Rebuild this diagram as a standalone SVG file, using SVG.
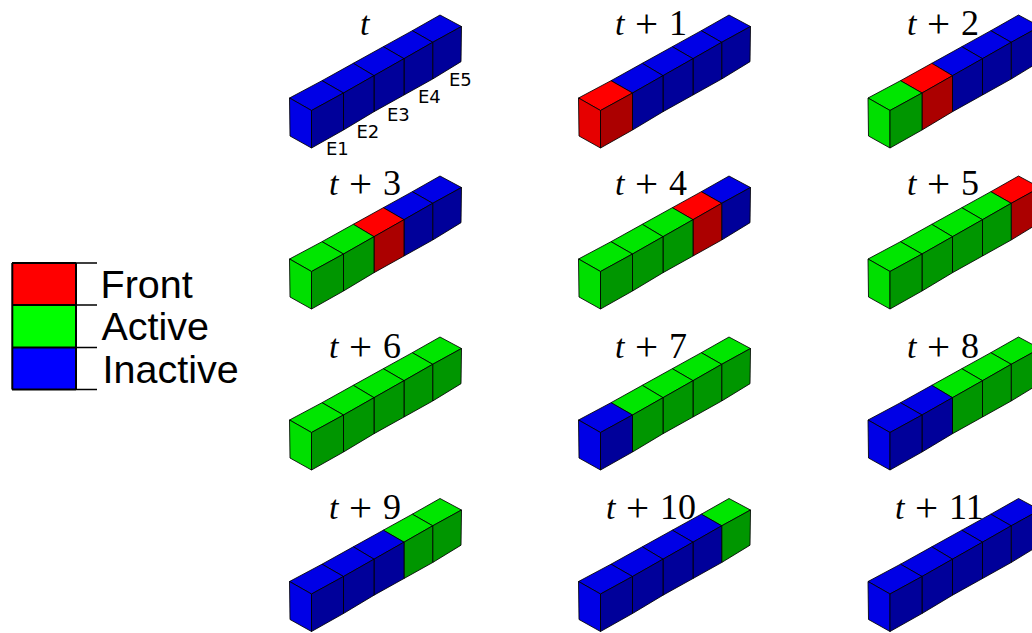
<svg xmlns="http://www.w3.org/2000/svg" width="1032" height="633" viewBox="0 0 1032 633">
<style>
.r{--a:#ff0000;--l:#e60000;--s:#ab0000}
.g{--a:#00e600;--l:#00df00;--s:#009600}
.b{--a:#0000e6;--l:#0000e6;--s:#00009a}
polygon{stroke:#000;stroke-width:.85;stroke-linejoin:round}
.t{fill:var(--a)}.f{fill:var(--l)}.d{fill:var(--s)}
.m{font-family:"Liberation Serif",serif;font-size:36px;fill:#000;word-spacing:2px}
.m .i{font-style:italic;font-size:34px}
.m .p{font-size:41px}
.e{font-family:"DejaVu Sans",sans-serif;font-size:18px;fill:#000}
.lg{font-family:"Liberation Sans",Arial,sans-serif;font-size:39.5px;fill:#000}
.bar{fill:none;stroke:#000;stroke-width:2}
.tick{stroke:#000;stroke-width:1.6;fill:none}
</style>
<defs>
<g id="e1"><polygon class="t" points="289.5,98 322,80.7 343.5,93 311.5,110.5"/><polygon class="f" points="289.5,98 311.5,110.5 311.5,148 290,136"/><polygon class="d" points="311.5,110.5 343.5,93 343.5,130 311.5,148"/></g>
<g id="e2"><polygon class="t" points="322,80.7 353.3,63.3 374,75.7 343.5,93"/><polygon class="d" points="343.5,93 374,75.7 374,111.7 343.5,130"/></g>
<g id="e3"><polygon class="t" points="353.3,63.3 383.3,46.7 404,58.7 374,75.7"/><polygon class="d" points="374,75.7 404,58.7 404,95 374,111.7"/></g>
<g id="e4"><polygon class="t" points="383.3,46.7 412.3,30.7 432.7,42.3 404,58.7"/><polygon class="d" points="404,58.7 432.7,42.3 432.7,79 404,95"/></g>
<g id="e5"><polygon class="t" points="412.3,30.7 440,15 461.5,26.5 432.7,42.3"/><polygon class="d" points="432.7,42.3 461.5,26.5 461,61.7 432.7,79"/></g>
</defs>
<g id="legend">
<rect x="12" y="263" width="64" height="42" fill="#ff0000"/>
<rect x="12" y="305" width="64" height="43" fill="#00ff00"/>
<rect x="12" y="347.500" width="64" height="42" fill="#0000ff"/>
<path class="bar" d="M12.300 263V389.500M76 263V389.500M12 263H76M12 305H76M12 347.500H76M12 389.500H76"/>
<path class="tick" d="M76 263H97M76 305H97M76 347.500H97M76 389.500H97"/>
<text class="lg" x="100.500" y="298">Front</text>
<text class="lg" x="101.500" y="340">Active</text>
<text class="lg" x="102.500" y="383">Inactive</text>
</g>
<g id="s0"><use href="#e5" class="b"/><use href="#e4" class="b"/><use href="#e3" class="b"/><use href="#e2" class="b"/><use href="#e1" class="b"/><text class="m" x="360" y="35"><tspan class="i">t</tspan></text>
<text class="e" x="326" y="155">E1</text><text class="e" x="356.500" y="138">E2</text><text class="e" x="387" y="120.500">E3</text><text class="e" x="418" y="103">E4</text><text class="e" x="449" y="86">E5</text></g>
<g id="s1" transform="translate(289 0)"><use href="#e5" class="b"/><use href="#e4" class="b"/><use href="#e3" class="b"/><use href="#e2" class="b"/><use href="#e1" class="r"/><text class="m" x="326" y="35"><tspan class="i">t </tspan><tspan class="p" dy="2">+</tspan><tspan dy="-2"> 1</tspan></text></g>
<g id="s2" transform="translate(578.500 0)"><use href="#e5" class="b"/><use href="#e4" class="b"/><use href="#e3" class="b"/><use href="#e2" class="r"/><use href="#e1" class="g"/><text class="m" x="328.500" y="35"><tspan class="i">t </tspan><tspan class="p" dy="2">+</tspan><tspan dy="-2"> 2</tspan></text></g>
<g id="s3" transform="translate(0 161)"><use href="#e5" class="b"/><use href="#e4" class="b"/><use href="#e3" class="r"/><use href="#e2" class="g"/><use href="#e1" class="g"/><text class="m" x="329" y="34"><tspan class="i">t </tspan><tspan class="p" dy="2">+</tspan><tspan dy="-2"> 3</tspan></text></g>
<g id="s4" transform="translate(289 161)"><use href="#e5" class="b"/><use href="#e4" class="r"/><use href="#e3" class="g"/><use href="#e2" class="g"/><use href="#e1" class="g"/><text class="m" x="326" y="34"><tspan class="i">t </tspan><tspan class="p" dy="2">+</tspan><tspan dy="-2"> 4</tspan></text></g>
<g id="s5" transform="translate(578.500 161)"><use href="#e5" class="r"/><use href="#e4" class="g"/><use href="#e3" class="g"/><use href="#e2" class="g"/><use href="#e1" class="g"/><text class="m" x="328.500" y="34"><tspan class="i">t </tspan><tspan class="p" dy="2">+</tspan><tspan dy="-2"> 5</tspan></text></g>
<g id="s6" transform="translate(0 322)"><use href="#e5" class="g"/><use href="#e4" class="g"/><use href="#e3" class="g"/><use href="#e2" class="g"/><use href="#e1" class="g"/><text class="m" x="329" y="36"><tspan class="i">t </tspan><tspan class="p" dy="2">+</tspan><tspan dy="-2"> 6</tspan></text></g>
<g id="s7" transform="translate(289 322)"><use href="#e5" class="g"/><use href="#e4" class="g"/><use href="#e3" class="g"/><use href="#e2" class="g"/><use href="#e1" class="b"/><text class="m" x="326" y="36"><tspan class="i">t </tspan><tspan class="p" dy="2">+</tspan><tspan dy="-2"> 7</tspan></text></g>
<g id="s8" transform="translate(578.500 322)"><use href="#e5" class="g"/><use href="#e4" class="g"/><use href="#e3" class="g"/><use href="#e2" class="b"/><use href="#e1" class="b"/><text class="m" x="328.500" y="36"><tspan class="i">t </tspan><tspan class="p" dy="2">+</tspan><tspan dy="-2"> 8</tspan></text></g>
<g id="s9" transform="translate(0 483.500)"><use href="#e5" class="g"/><use href="#e4" class="g"/><use href="#e3" class="b"/><use href="#e2" class="b"/><use href="#e1" class="b"/><text class="m" x="329" y="35.500"><tspan class="i">t </tspan><tspan class="p" dy="2">+</tspan><tspan dy="-2"> 9</tspan></text></g>
<g id="s10" transform="translate(289 483.500)"><use href="#e5" class="g"/><use href="#e4" class="b"/><use href="#e3" class="b"/><use href="#e2" class="b"/><use href="#e1" class="b"/><text class="m" x="317" y="35.500"><tspan class="i">t </tspan><tspan class="p" dy="2">+</tspan><tspan dy="-2"> 10</tspan></text></g>
<g id="s11" transform="translate(578.500 483.500)"><use href="#e5" class="b"/><use href="#e4" class="b"/><use href="#e3" class="b"/><use href="#e2" class="b"/><use href="#e1" class="b"/><text class="m" x="316.500" y="35.500"><tspan class="i">t </tspan><tspan class="p" dy="2">+</tspan><tspan dy="-2"> 11</tspan></text></g>
</svg>
